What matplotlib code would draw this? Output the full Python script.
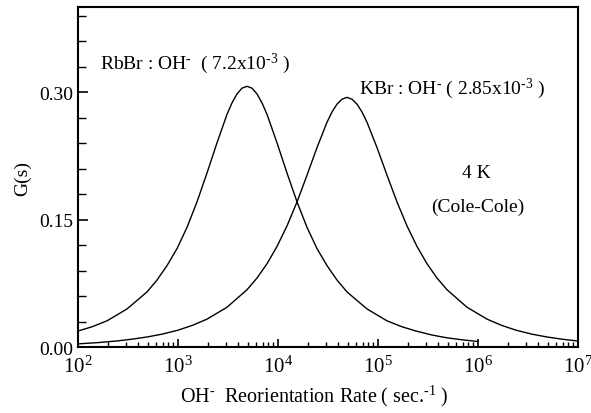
import numpy as np
import matplotlib
matplotlib.use("Agg")
import matplotlib.pyplot as plt

plt.rcParams['font.family'] = 'Liberation Serif'
plt.rcParams['mathtext.fontset'] = 'custom'
plt.rcParams['mathtext.rm'] = 'Liberation Serif'
plt.rcParams['mathtext.it'] = 'Liberation Serif:italic'
plt.rcParams['mathtext.bf'] = 'Liberation Serif:bold'

# log10 of reorientation rate (sec^-1) and G(s)
rbbr_lograte = [2.0, 2.14, 2.29, 2.49, 2.69, 2.79, 2.89, 2.99, 3.09, 3.19, 3.29,
                3.39, 3.49, 3.54, 3.59, 3.64, 3.69, 3.74, 3.79, 3.84, 3.89, 3.99,
                4.09, 4.19, 4.29, 4.39, 4.49, 4.59, 4.69, 4.89, 5.09, 5.24, 5.38,
                5.54, 5.69, 5.84, 6.0]
rbbr_g = [0.019, 0.024, 0.031, 0.045, 0.065, 0.079, 0.096, 0.116, 0.141, 0.171,
          0.205, 0.2405, 0.274, 0.2875, 0.298, 0.3048, 0.307, 0.3048, 0.298,
          0.2875, 0.274, 0.2405, 0.205, 0.171, 0.141, 0.116, 0.096, 0.079, 0.065,
          0.045, 0.031, 0.024, 0.019, 0.0143, 0.011, 0.0087, 0.0066]

kbr_lograte = [2.0, 2.19, 2.38, 2.54, 2.69, 2.84, 3.0, 3.14, 3.29, 3.49, 3.69,
               3.79, 3.89, 3.99, 4.09, 4.19, 4.29, 4.39, 4.49, 4.54, 4.59, 4.64,
               4.69, 4.74, 4.79, 4.84, 4.89, 4.99, 5.09, 5.19, 5.29, 5.39, 5.49,
               5.59, 5.69, 5.89, 6.09, 6.24, 6.38, 6.54, 6.69, 6.84, 7.0]
kbr_g = [0.0039, 0.0053, 0.0072, 0.0094, 0.012, 0.0153, 0.020, 0.0255, 0.033,
         0.047, 0.0676, 0.0814, 0.0982, 0.1185, 0.1427, 0.1709, 0.2024, 0.2349,
         0.2647, 0.2768, 0.286, 0.2918, 0.294, 0.2918, 0.286, 0.2768, 0.2647,
         0.2349, 0.2024, 0.1709, 0.1427, 0.1185, 0.0982, 0.0814, 0.0676, 0.047,
         0.033, 0.0255, 0.020, 0.0153, 0.012, 0.0094, 0.0072]

fig = plt.figure(figsize=(5.91, 4.14), dpi=100)
ax = fig.add_axes([0.132, 0.159, 0.846, 0.821])

ax.plot(10 ** np.array(rbbr_lograte), rbbr_g, color='black', lw=1.0)
ax.plot(10 ** np.array(kbr_lograte), kbr_g, color='black', lw=1.0)

ax.set_xscale('log')
ax.set_xlim(1e2, 1e7)
ax.set_ylim(0, 0.40)
ax.set_yticks([0.0, 0.15, 0.30])
ax.set_yticklabels(['0.00', '0.15', '0.30'])
ax.set_yticks(np.arange(0, 0.40, 0.03), minor=True)

ax.tick_params(axis='both', which='both', direction='in', top=False, right=False)
ax.tick_params(axis='x', which='major', length=6, width=1.2, labelsize=15, pad=6)
ax.tick_params(axis='x', which='minor', length=3.5, width=1.0)
ax.tick_params(axis='y', which='major', length=7, width=1.2, labelsize=14)
ax.tick_params(axis='y', which='minor', length=6, width=1.0)
for s in ax.spines.values():
    s.set_linewidth(1.5)

hy = '\u2010'
ax.set_xlabel(r'OH$^{\mathregular{%s}}$  Reorientation Rate ( sec.$^{\mathregular{%s1}}$ )' % (hy, hy),
              fontsize=14.5)
ax.xaxis.set_label_coords(0.472, -0.105)
ax.set_ylabel('G(s)', fontsize=14)
ax.yaxis.set_label_coords(-0.093, 0.5)

ax.text(10 ** 2.22, 0.335, r'RbBr : OH$^{\mathregular{%s}}$  ( 7.2x10$^{\mathregular{%s3}}$ )' % (hy, hy),
        fontsize=14, va='center', ha='left')
ax.text(10 ** 4.81, 0.305, r'KBr : OH$^{\mathregular{%s}}$ ( 2.85x10$^{\mathregular{%s3}}$ )' % (hy, hy),
        fontsize=14, va='center', ha='left')
ax.text(10 ** 5.98, 0.206, '4 K', fontsize=14, va='center', ha='center')
ax.text(10 ** 6.0, 0.166, '(Cole-Cole)', fontsize=14, va='center', ha='center')

fig.savefig('out.png', dpi=100)
